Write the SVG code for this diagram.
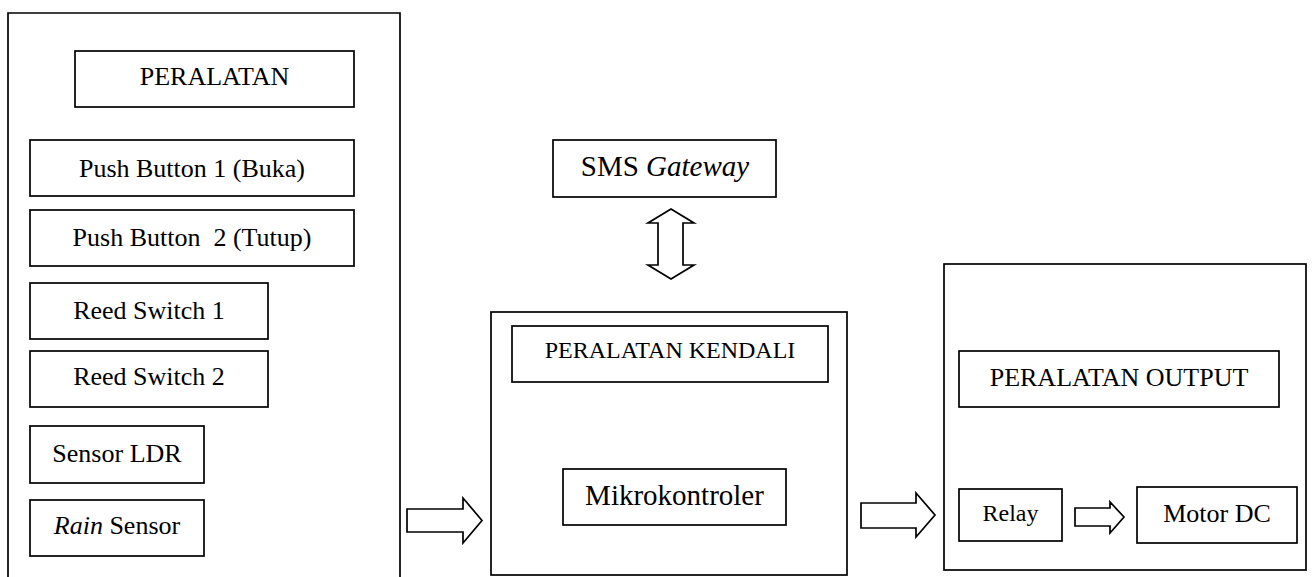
<svg xmlns="http://www.w3.org/2000/svg" width="1312" height="577" viewBox="0 0 1312 577">
<style>
.b{fill:#fff;stroke:#000;stroke-width:1.7}
.o{fill:none;stroke:#000;stroke-width:1.7}
.a{fill:#fff;stroke:#000;stroke-width:1.7;stroke-linejoin:miter}
text{font-family:"Liberation Serif","Times New Roman",serif;fill:#000;text-anchor:middle}
.s26{font-size:26px}
.s24{font-size:24px}
.s29{font-size:29px}
</style>
<rect width="1312" height="577" fill="#fff"/>
<g id="input-group">
<path class="o" d="M8,580 V13 H400 V580"/>
</g>
<g id="peralatan">
<rect class="b" x="75" y="51" width="279" height="56"/>
<text class="s26" x="214.5" y="85">PERALATAN</text>
</g>
<g id="push-button-1">
<rect class="b" x="30" y="140" width="324" height="56"/>
<text class="s26" x="192" y="176.7">Push Button 1 (Buka)</text>
</g>
<g id="push-button-2">
<rect class="b" x="30" y="210" width="324" height="56"/>
<text class="s26" x="192" y="245.5" xml:space="preserve">Push Button  2 (Tutup)</text>
</g>
<g id="reed-switch-1">
<rect class="b" x="30" y="283" width="238" height="56"/>
<text class="s26" x="149" y="318.5">Reed Switch 1</text>
</g>
<g id="reed-switch-2">
<rect class="b" x="30" y="351" width="238" height="56"/>
<text class="s26" x="149" y="385">Reed Switch 2</text>
</g>
<g id="sensor-ldr">
<rect class="b" x="30" y="426" width="174" height="57"/>
<text class="s26" x="117" y="461.7">Sensor LDR</text>
</g>
<g id="rain-sensor">
<rect class="b" x="30" y="500" width="174" height="56"/>
<text class="s26" x="117" y="534.3"><tspan font-style="italic">Rain</tspan> Sensor</text>
</g>
<g id="sms-gateway">
<rect class="b" x="553" y="140" width="223" height="57"/>
<text class="s29" x="665" y="175.5">SMS <tspan font-style="italic">Gateway</tspan></text>
</g>
<g id="kendali-group">
<rect class="b" x="491" y="312" width="356" height="263"/>
</g>
<g id="peralatan-kendali">
<rect class="b" x="512" y="326" width="316" height="56"/>
<text class="s24" x="670" y="358.3">PERALATAN KENDALI</text>
</g>
<g id="mikrokontroler">
<rect class="b" x="563" y="469" width="223" height="56"/>
<text class="s29" x="674.5" y="505">Mikrokontroler</text>
</g>
<g id="output-group">
<rect class="b" x="944" y="264" width="362" height="306"/>
</g>
<g id="peralatan-output">
<rect class="b" x="959" y="351" width="320" height="56"/>
<text class="s26" x="1119" y="386">PERALATAN OUTPUT</text>
</g>
<g id="relay">
<rect class="b" x="959" y="489" width="103" height="52"/>
<text class="s24" x="1010.5" y="520.7">Relay</text>
</g>
<g id="motor-dc">
<rect class="b" x="1137" y="487" width="160" height="56"/>
<text class="s26" x="1217" y="521.7">Motor DC</text>
</g>
<g id="connectors">
<polygon class="a" points="407,509 463,509 463,498 482,520.5 463,543 463,532 407,532"/>
<polygon class="a" points="861,503 916,503 916,493 935,515 916,537 916,528 861,528"/>
<polygon class="a" points="1075,508 1110,508 1110,502 1124,517 1110,533 1110,526 1075,526"/>
<polygon class="a" points="671,209 694,223 683,223 683,265 694,265 671,279 648,265 658,265 658,223 648,223"/>
</g>
</svg>
